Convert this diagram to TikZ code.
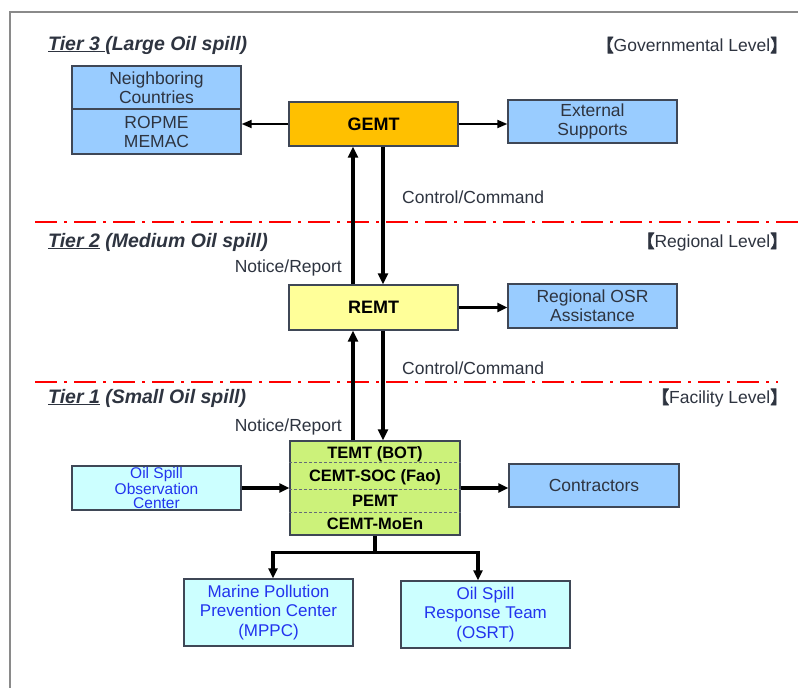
\documentclass[tikz,border=0pt]{standalone}
\usepackage{fontspec}
\setmainfont{Liberation Sans}
\newfontfamily\cjk[FakeBold=4]{Noto Sans CJK SC}
\usetikzlibrary{arrows.meta}
\definecolor{framecol}{HTML}{8A8A8A}
\definecolor{bfill}{HTML}{99CCFF}
\definecolor{gfill}{HTML}{FFC000}
\definecolor{yfill}{HTML}{FFFF99}
\definecolor{lgfill}{HTML}{CCF27A}
\definecolor{cfill}{HTML}{CCFFFF}
\definecolor{edgecol}{HTML}{3F4756}
\definecolor{txt}{HTML}{2E3440}
\definecolor{btxt}{HTML}{2233EE}
\definecolor{dashred}{HTML}{FF0000}
\tikzset{
  box/.style={draw=edgecol, line width=1.3pt, minimum width=169pt, inner sep=0pt, align=center, text=txt, font=\fontsize{17.5pt}{19pt}\selectfont},
  bluebox/.style={box, fill=bfill},
  cyanbox/.style={box, fill=cfill, text=btxt},
  leadbox/.style={box, text=black, font=\bfseries\fontsize{18pt}{20pt}\selectfont},
  rowtext/.style={inner sep=0pt, text=black, font=\bfseries\fontsize{16.5pt}{18pt}\selectfont},
  tiertitle/.style={anchor=west, inner sep=0pt, text=txt, font=\bfseries\itshape\fontsize{19.5pt}{21pt}\selectfont},
  leveltext/.style={anchor=east, inner sep=0pt, text=txt, font=\fontsize{17.5pt}{19pt}\selectfont},
  lbl/.style={inner sep=0pt, text=txt, font=\fontsize{17.5pt}{19pt}\selectfont},
  tierline/.style={draw=dashred, line width=2.5pt, dash pattern=on 22pt off 7pt on 3pt off 7pt},
  framelines/.style={draw=framecol, line width=1.5pt},
  thinarrow/.style={draw=black, line width=1.8pt, -{Triangle[length=10pt,width=8pt]}},
  thickarrow/.style={draw=black, line width=4pt, -{Triangle[length=11pt,width=10pt]}},
  midline/.style={draw=black, line width=3.2pt},
  midarrow/.style={draw=black, line width=3.2pt, -{Triangle[length=10pt,width=9pt]}},
  divider/.style={draw=edgecol!80, line width=0.7pt, dash pattern=on 3pt off 2pt}
}
\begin{document}
\begin{tikzpicture}[x=1pt,y=-1pt]
\useasboundingbox (0,0) rectangle (798,688);
\fill[white] (0,0) rectangle (798,688);
% frame
\coordinate (fbl) at (10,688);
\coordinate (ftl) at (10,12);
\coordinate (ftr) at (798,12);
\draw[framelines] (fbl) -- (ftl) -- (ftr);
% tier separators
\coordinate (r1a) at (35,222);
\coordinate (r1b) at (798,222);
\coordinate (r2a) at (35,382);
\coordinate (r2b) at (778,382);
\draw[tierline] (r1a) -- (r1b);
\draw[tierline] (r2a) -- (r2b);
% titles
\node[tiertitle] (t3) at (48,45) {\underline{Tier 3\ }(Large Oil spill)};
\node[tiertitle] (t2) at (48,242) {\underline{Tier 2} (Medium Oil spill)};
\node[tiertitle] (t1) at (48,398) {\underline{Tier 1} (Small Oil spill)};
\node[leveltext] (l3) at (788,45) {{\cjk 【}Governmental Level{\cjk 】}};
\node[leveltext] (l2) at (788,242) {{\cjk 【}Regional Level{\cjk 】}};
\node[leveltext] (l1) at (788,398) {{\cjk 【}Facility Level{\cjk 】}};
% tier 3 boxes
\node[bluebox, minimum height=43pt] (neighTop) at (156.5,87.5) {Neighboring\\Countries};
\node[bluebox, minimum height=45pt] (neighBot) at (156.5,131.5) {ROPME\\MEMAC};
\node[leadbox, fill=gfill, minimum height=44pt] (gemt) at (373.5,124) {GEMT};
\node[bluebox, minimum height=43pt] (ext) at (592.5,121.5) {External\\Supports};
% tier 2 boxes
\node[leadbox, fill=yfill, minimum height=45pt] (remt) at (373.5,307.5) {REMT};
\node[bluebox, minimum height=44pt] (reg) at (592.5,306) {Regional OSR\\Assistance};
% tier 1 boxes
\node[box, fill=lgfill, minimum width=170pt, minimum height=94pt] (green) at (375,488) {};
\draw[divider] ([yshift=-22pt]green.north west) -- ([yshift=-22pt]green.north east);
\draw[divider] ([yshift=-49pt]green.north west) -- ([yshift=-49pt]green.north east);
\draw[divider] ([yshift=-72pt]green.north west) -- ([yshift=-72pt]green.north east);
\node[rowtext] (g1) at ([yshift=-14pt]green.north) {TEMT (BOT)};
\node[rowtext] (g2) at ([yshift=-37pt]green.north) {CEMT-SOC (Fao)};
\node[rowtext] (g3) at ([yshift=-60pt]green.north) {PEMT};
\node[rowtext] (g4) at ([yshift=-83pt]green.north) {CEMT-MoEn};
\node[bluebox, minimum width=170pt, minimum height=43pt] (contr) at (594,485.5) {Contractors};
\node[cyanbox, minimum height=44pt, font=\fontsize{15.5pt}{14pt}\selectfont] (obs) at (156.5,488) {Oil Spill\\Observation\\Center};
\node[cyanbox, minimum height=67pt, font=\fontsize{17pt}{19.5pt}\selectfont] (mppc) at (268.5,612.5) {Marine Pollution\\Prevention Center\\(MPPC)};
\node[cyanbox, minimum height=67pt, font=\fontsize{17pt}{19.5pt}\selectfont] (osrt) at (485.5,614.5) {Oil Spill\\Response Team\\(OSRT)};
% labels
\node[lbl, anchor=west] (cc1) at (402,197) {Control/Command};
\node[lbl, anchor=west] (cc2) at (402,368) {Control/Command};
\node[lbl, anchor=east] (nr1) at (342,268) {Notice/Report};
\node[lbl, anchor=east] (nr2) at (342,427) {Notice/Report};
% connectors tier 3
\draw[thinarrow] (gemt.west) -- (gemt.west -| neighBot.east);
\draw[thinarrow] (gemt.east) -- (gemt.east -| ext.west);
\draw[thickarrow] ([xshift=-20.5pt]remt.north) -- ([xshift=-20.5pt]gemt.south);
\draw[thickarrow] ([xshift=9.5pt]gemt.south) -- ([xshift=9.5pt]remt.north);
% connectors tier 2
\draw[midarrow] (remt.east) -- (remt.east -| reg.west);
\coordinate (upx) at ([xshift=-20.5pt]remt.south);
\coordinate (dnx) at ([xshift=9.5pt]remt.south);
\draw[thickarrow] (upx |- green.north) -- (upx);
\draw[thickarrow] (dnx) -- (dnx |- green.north);
% connectors tier 1
\draw[midarrow] (obs.east) -- (obs.east -| green.west);
\draw[midarrow] (green.east) -- (green.east -| contr.west);
\coordinate (jn) at ([yshift=-17pt]green.south);
\coordinate (ma) at ([xshift=4.5pt]mppc.north);
\coordinate (oa) at ([xshift=-7.5pt]osrt.north);
\draw[midline] (green.south) -- (jn);
\draw[midarrow] (jn) -| (ma);
\draw[midarrow] (jn) -| (oa);
\end{tikzpicture}
\end{document}
